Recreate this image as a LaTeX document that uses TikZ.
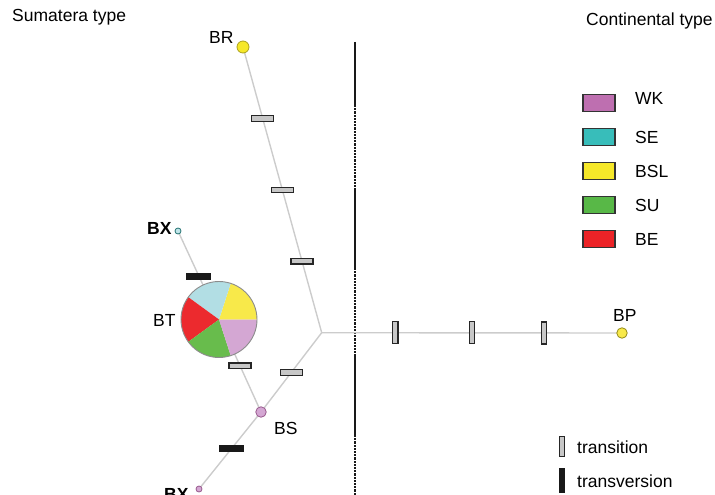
\documentclass[tikz,border=0pt]{standalone}
\usepackage{fontspec}
\setmainfont{Liberation Sans}
\usetikzlibrary{positioning}
\definecolor{wkpink}{RGB}{190,111,176}
\definecolor{seteal}{RGB}{56,189,186}
\definecolor{bslyellow}{RGB}{246,232,41}
\definecolor{sugreen}{RGB}{88,184,71}
\definecolor{bered}{RGB}{236,35,39}
\definecolor{pieblue}{RGB}{178,222,228}
\definecolor{pieyellow}{RGB}{248,233,74}
\definecolor{piered}{RGB}{236,42,46}
\definecolor{piegreen}{RGB}{104,188,76}
\definecolor{piepink}{RGB}{212,167,211}
\tikzset{
  branch/.style={draw=black!20, line width=1.4pt},
  ts/.style={draw=black!85, fill=black!22, line width=1.2pt, minimum width=22pt, minimum height=5.5pt, inner sep=0pt},
  tsv/.style={ts, minimum width=5.5pt, minimum height=22pt},
  tv/.style={fill=black!90, minimum width=25pt, minimum height=7pt, inner sep=0pt},
  hap/.style={circle, inner sep=0pt, line width=0.8pt},
  lab/.style={anchor=base west, inner sep=0pt, font=\fontsize{17.5}{20}\selectfont},
  key/.style={draw=black!80, line width=1.4pt, minimum width=32pt, minimum height=16.5pt, inner sep=0pt},
  sep/.style={line width=2.8pt, black!90}
}
\begin{document}
\begin{tikzpicture}[x=1pt,y=-1pt]
\useasboundingbox (0,0) rectangle (715,495);
\coordinate (J) at (321.7,332.7);
\coordinate (BR) at (243,47);
\coordinate (BT) at (219,319.5);
\coordinate (BS) at (261,412);
\coordinate (BXt) at (178,231);
\coordinate (BXb) at (199,489);
\coordinate (BP) at (622,333);
\draw[sep] (355,42) -- (355,105);
\draw[sep] (355,190) -- (355,268);
\draw[sep] (355,355) -- (355,435);
\foreach \s/\n in {105/26,268/27,435/18}
  \foreach \k in {0,...,\n}
    \fill[black!90] (353.6,\s+3.2*\k) rectangle ++(2.8,2.2);
\draw[branch] (BR) -- (J) node[ts,pos=.25] (t1) {} node[ts,pos=.5] (t2) {} node[ts,pos=.75] (t3) {};
\draw[branch] (J) -- (BS) node[ts,pos=.5] (t4) {};
\draw[branch] (BS) -- (BT) node[ts,pos=.5] (t5) {};
\draw[branch] (BT) -- (BXt) node[tv,pos=.49] (v1) {};
\draw[branch] (BS) -- (BXb) node[tv,pos=.48] (v2) {};
\draw[branch] (J) -- (BP) node[tsv,pos=.245] (t6) {} node[tsv,pos=.5] (t7) {} node[tsv,pos=.74] (t8) {};
\foreach \a/\b/\c in {0/72/pieyellow,72/144/pieblue,144/216/piered,216/288/piegreen,288/360/piepink}
  \fill[\c] (BT) -- ++(\a:38pt) arc[start angle=\a, end angle=\b, radius=38pt] -- cycle;
\node[hap, draw=black!45, line width=0.9pt, minimum size=76pt] (bt) at (BT) {};
\node[hap, fill=bslyellow, draw=bslyellow!70!black, minimum size=12pt] (br) at (BR) {};
\node[hap, fill=pieblue!80!white, draw=seteal!60!black, minimum size=6pt] (bxt) at (BXt) {};
\node[hap, fill=piepink, draw=wkpink!80!black, minimum size=10.5pt] (bs) at (BS) {};
\node[hap, fill=piepink, draw=wkpink!80!black, minimum size=6pt] (bxb) at (BXb) {};
\node[hap, fill=pieyellow, draw=bslyellow!60!black, minimum size=10.5pt] (bp) at (BP) {};
\node[lab] (sumatera) at (12,22) {Sumatera type};
\node[lab] (continental) at (586,26) {Continental type};
\node[lab] (brl) at (209,44) {BR};
\node[lab, font=\fontsize{17.5}{20}\selectfont\bfseries] (bxtl) at (147,234) {BX};
\node[lab] (btl) at (153,326) {BT};
\node[lab] (bsl) at (274,434) {BS};
\node[lab] (bpl) at (613,321) {BP};
\node[lab, font=\fontsize{17.5}{20}\selectfont\bfseries] (bxbl) at (164,500) {BX};
\foreach \n/\c/\y/\d in {WK/wkpink/103/-5,SE/seteal/137/0,BSL/bslyellow/171/0,SU/sugreen/205/0,BE/bered/239/0}{
  \node[key, fill=\c] (key\n) at (599,\y) {};
  \node[lab] (txt\n) at (635,\y+6+\d) {\n};
}
\node[ts, minimum width=5.5pt, minimum height=20pt] (keyts) at (562,446.5) {};
\node[tv, minimum width=6pt, minimum height=25pt] (keytv) at (562,480.5) {};
\node[lab] (txtts) at (577,453) {transition};
\node[lab] (txttv) at (577,487) {transversion};
\end{tikzpicture}
\end{document}
